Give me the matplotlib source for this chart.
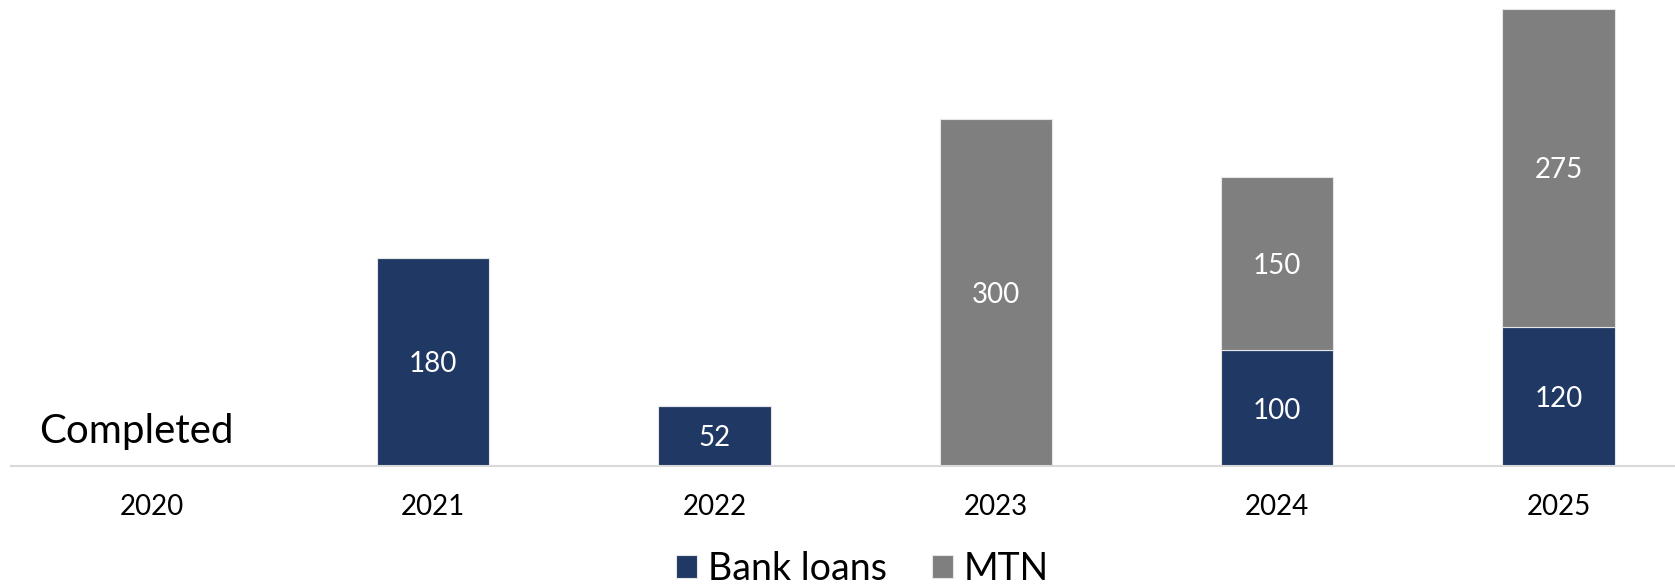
"""Stacked bar chart: bank loans and MTN by year."""

import matplotlib
matplotlib.use("Agg")
import matplotlib.pyplot as plt
import numpy as np

years = ["2020", "2021", "2022", "2023", "2024", "2025"]
bank_loans = [0, 180, 52, 0, 100, 120]
mtn = [0, 0, 0, 300, 150, 275]

NAVY = "#203864"
GREY = "#7F7F7F"

plt.rcParams["font.family"] = ["Lato", "DejaVu Sans"]

fig = plt.figure(figsize=(16.75, 5.85), dpi=100)
ax = fig.add_axes([11 / 1675, (585 - 466) / 585, 1 - 11 / 1675, 463 / 585])

x = np.arange(len(years))
w = 0.4
b1 = ax.bar(x, bank_loans, w, color=NAVY, edgecolor="#E6E6E6", linewidth=0.8, label="Bank loans")
b2 = ax.bar(x, mtn, w, bottom=bank_loans, color=GREY, edgecolor="#E6E6E6", linewidth=0.8, label="MTN")

# value labels in the middle of each segment, skip empty ones
for bars, vals, base in ((b1, bank_loans, [0] * len(years)), (b2, mtn, bank_loans)):
    for bar, v, b in zip(bars, vals, base):
        if v == 0:
            continue
        ax.text(bar.get_x() + bar.get_width() / 2, b + v / 2, str(v),
                ha="center", va="center_baseline", color="white", fontsize=20)

ax.text(-0.4, 20, "Completed", fontsize=29, color="black", va="baseline", ha="left")

ax.set_xlim(-0.5, 5.414)
ax.set_ylim(0, 400)
ax.set_xticks(x)
ax.set_xticklabels(years, fontsize=20)
ax.tick_params(axis="x", length=0, pad=20)
ax.set_yticks([])
for side in ("top", "right", "left"):
    ax.spines[side].set_visible(False)
ax.spines["bottom"].set_color("#D9D9D9")
ax.spines["bottom"].set_linewidth(1.5)

fig.legend(handles=[b1, b2], loc="center", bbox_to_anchor=(0.515, 0.028), ncol=2,
           frameon=False, fontsize=27, handlelength=0.55, handleheight=0.55,
           handletextpad=0.3, columnspacing=1.2)

fig.savefig("out.png", dpi=100)
plt.close(fig)
